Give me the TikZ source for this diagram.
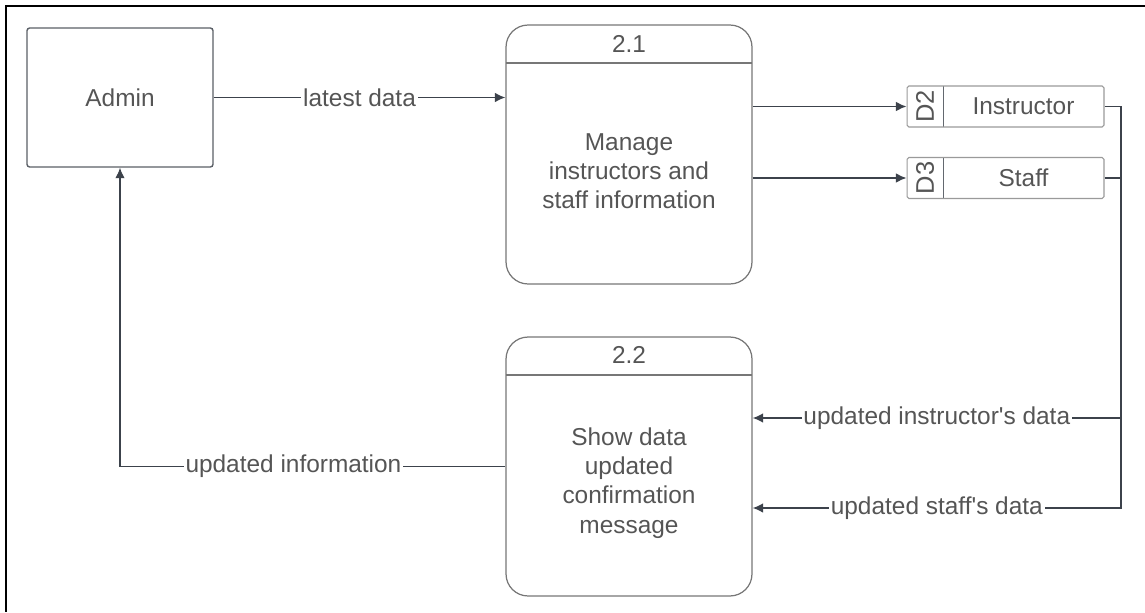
\documentclass[tikz,border=0pt]{standalone}
\usepackage{fontspec}
\setmainfont{Liberation Sans}
\usetikzlibrary{arrows.meta,calc}

\definecolor{txt}{HTML}{555555}
\definecolor{wire}{HTML}{3C424B}
\definecolor{entedge}{HTML}{5A5F66}
\definecolor{procedge}{HTML}{777777}
\definecolor{storeedge}{HTML}{9A9A9A}

\tikzset{
  lbl/.style={fill=white, inner sep=1pt},
  entity/.style={draw=entedge, line width=0.8pt, rounded corners=1.5pt,
    minimum width=3.72cm, minimum height=2.78cm, inner sep=0pt},
  proc/.style={draw=procedge, line width=0.7pt, rounded corners=0.44cm,
    minimum width=4.92cm, minimum height=5.18cm, inner sep=0pt,
    path picture={\draw[procedge, line width=0.7pt]
      ([yshift=-0.76cm]path picture bounding box.north west) --
      ([yshift=-0.76cm]path picture bounding box.north east);}},
  store/.style={draw=storeedge, line width=0.6pt, rounded corners=1pt,
    minimum width=3.94cm, minimum height=0.82cm, inner sep=0pt,
    path picture={\draw[wire!80, line width=0.6pt]
      ([xshift=0.72cm]path picture bounding box.north west) --
      ([xshift=0.72cm]path picture bounding box.south west);}},
  flow/.style={draw=wire, line width=0.9pt, -{Latex[length=6pt,width=5.5pt]}},
  frame/.style={draw=black, line width=1.2pt}
}

\begin{document}
\begin{tikzpicture}[x=0.02cm, y=-0.02cm,
  every node/.style={font=\fontsize{13.9}{16.6}\selectfont, text=txt}]
  \useasboundingbox (0,0) rectangle (1145,612);

  % outer frame (top and left edges)
  \draw[frame] (1145,6) -- (6,6) -- (6,612);

  % external entity
  \node[entity] (admin) at (120,97.5) {Admin};

  % processes
  \node[proc] (p21) at (629,154.5) {};
  \node (p21id) at (629,44) {2.1};
  \node[align=center] (p21txt) at (629,171) {Manage\\instructors and\\staff information};

  \node[proc] (p22) at (629,466.5) {};
  \node (p22id) at (629,355) {2.2};
  \node[align=center] (p22txt) at (629,483) {Show data\\updated\\confirmation\\message};

  % data stores
  \node[store] (d2) at (1005.5,106.5) {};
  \node[rotate=90, font=\fontsize{14.5}{16}\selectfont] (d2id) at (925,106.5) {D2};
  \node (d2txt) at (1023.5,106.5) {Instructor};

  \node[store] (d3) at (1005.5,178) {};
  \node[rotate=90, font=\fontsize{14.5}{16}\selectfont] (d3id) at (925,178) {D3};
  \node (d3txt) at (1023.5,178) {Staff};

  % junction points on the return line
  \coordinate (j1) at (1121,418);
  \coordinate (j2) at (1121,508);

  % data flows
  \draw[flow] (admin.east) -- node[lbl]{latest data} (admin.east -| p21.west);
  \draw[flow] (p21.east |- d2.west) -- (d2.west);
  \draw[flow] (p21.east |- d3.west) -- (d3.west);
  \draw[flow] (d2.east) -| (j1) -- node[lbl]{updated instructor\textquotesingle s data} (p22.east |- j1);
  \draw[flow] (d3.east) -| (j2) -- node[lbl]{updated staff\textquotesingle s data} (p22.east |- j2);
  \draw[flow] (p22.west) -- node[lbl, pos=0.55]{updated information} (p22.west -| admin.south) -- (admin.south);
\end{tikzpicture}
\end{document}
